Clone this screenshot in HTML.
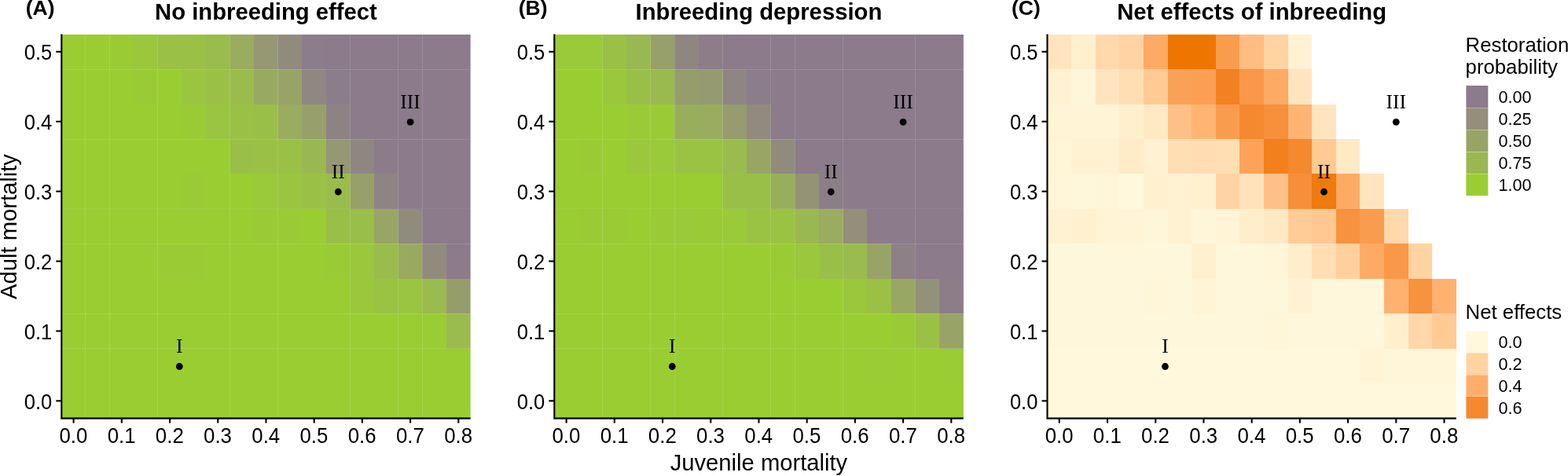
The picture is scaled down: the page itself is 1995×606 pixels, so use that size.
<!DOCTYPE html>
<html><head><meta charset="utf-8"><style>
html,body{margin:0;padding:0;background:#fff;width:1995px;height:606px;overflow:hidden}
svg{display:block}
text{font-family:"Liberation Sans",Arial,sans-serif;fill:#000}
.tk{font-size:27.2px}
.pl{font-size:25px;font-weight:bold}
.ti{font-size:29.26px;font-weight:bold}
.at{font-size:29.2px}
.lt{font-size:25.3px}
.ll{font-size:21.6px}
.rn{font-family:"Liberation Serif","Times New Roman",serif;font-size:25.5px}
</style></head><body>
<svg width="1995" height="606" viewBox="0 0 1995 606">
<rect width="1995" height="606" fill="#fff"/>
<g>
<rect x="78" y="44" width="31.00" height="44" fill="#9acd32"/>
<rect x="109" y="44" width="31.00" height="44" fill="#9acd32"/>
<rect x="140" y="44" width="30.00" height="44" fill="#9acb35"/>
<rect x="170" y="44" width="31.00" height="44" fill="#9ac73c"/>
<rect x="201" y="44" width="30.00" height="44" fill="#9ac146"/>
<rect x="231" y="44" width="31.00" height="44" fill="#9ac146"/>
<rect x="262" y="44" width="31.00" height="44" fill="#9abc4c"/>
<rect x="293" y="44" width="30.00" height="44" fill="#99ac5f"/>
<rect x="323" y="44" width="31.00" height="44" fill="#959873"/>
<rect x="354" y="44" width="30.00" height="44" fill="#918b7d"/>
<rect x="384" y="44" width="31.00" height="44" fill="#8c7d8a"/>
<rect x="415" y="44" width="31.00" height="44" fill="#8b7b8b"/>
<rect x="446" y="44" width="30.00" height="44" fill="#8b7b8b"/>
<rect x="476" y="44" width="31.00" height="44" fill="#8b7b8b"/>
<rect x="507" y="44" width="30.00" height="44" fill="#8b7b8b"/>
<rect x="537" y="44" width="31.00" height="44" fill="#8b7b8b"/>
<rect x="568" y="44" width="30.60" height="44" fill="#8b7b8b"/>
<rect x="78" y="88" width="31.00" height="45" fill="#9acd32"/>
<rect x="109" y="88" width="31.00" height="45" fill="#9acd32"/>
<rect x="140" y="88" width="30.00" height="45" fill="#9acd32"/>
<rect x="170" y="88" width="31.00" height="45" fill="#9acb37"/>
<rect x="201" y="88" width="30.00" height="45" fill="#9acd32"/>
<rect x="231" y="88" width="31.00" height="45" fill="#9ac540"/>
<rect x="262" y="88" width="31.00" height="45" fill="#9ac146"/>
<rect x="293" y="88" width="30.00" height="45" fill="#9abc4c"/>
<rect x="323" y="88" width="31.00" height="45" fill="#98a962"/>
<rect x="354" y="88" width="30.00" height="45" fill="#98a467"/>
<rect x="384" y="88" width="31.00" height="45" fill="#908781"/>
<rect x="415" y="88" width="31.00" height="45" fill="#8c7d8a"/>
<rect x="446" y="88" width="30.00" height="45" fill="#8b7b8b"/>
<rect x="476" y="88" width="31.00" height="45" fill="#8b7b8b"/>
<rect x="507" y="88" width="30.00" height="45" fill="#8b7b8b"/>
<rect x="537" y="88" width="31.00" height="45" fill="#8b7b8b"/>
<rect x="568" y="88" width="30.60" height="45" fill="#8b7b8b"/>
<rect x="78" y="133" width="31.00" height="44" fill="#9acd32"/>
<rect x="109" y="133" width="31.00" height="44" fill="#9acd32"/>
<rect x="140" y="133" width="30.00" height="44" fill="#9acd32"/>
<rect x="170" y="133" width="31.00" height="44" fill="#9acd32"/>
<rect x="201" y="133" width="30.00" height="44" fill="#9acd32"/>
<rect x="231" y="133" width="31.00" height="44" fill="#9acb35"/>
<rect x="262" y="133" width="31.00" height="44" fill="#9ac540"/>
<rect x="293" y="133" width="30.00" height="44" fill="#9ac146"/>
<rect x="323" y="133" width="31.00" height="44" fill="#9abf48"/>
<rect x="354" y="133" width="30.00" height="44" fill="#99ac5f"/>
<rect x="384" y="133" width="31.00" height="44" fill="#97a06b"/>
<rect x="415" y="133" width="31.00" height="44" fill="#8e8384"/>
<rect x="446" y="133" width="30.00" height="44" fill="#8b7b8b"/>
<rect x="476" y="133" width="31.00" height="44" fill="#8b7b8b"/>
<rect x="507" y="133" width="30.00" height="44" fill="#8b7b8b"/>
<rect x="537" y="133" width="31.00" height="44" fill="#8b7b8b"/>
<rect x="568" y="133" width="30.60" height="44" fill="#8b7b8b"/>
<rect x="78" y="177" width="31.00" height="44" fill="#9acd32"/>
<rect x="109" y="177" width="31.00" height="44" fill="#9acd32"/>
<rect x="140" y="177" width="30.00" height="44" fill="#9acd32"/>
<rect x="170" y="177" width="31.00" height="44" fill="#9acd32"/>
<rect x="201" y="177" width="30.00" height="44" fill="#9acd32"/>
<rect x="231" y="177" width="31.00" height="44" fill="#9acd32"/>
<rect x="262" y="177" width="31.00" height="44" fill="#9acd32"/>
<rect x="293" y="177" width="30.00" height="44" fill="#9abf48"/>
<rect x="323" y="177" width="31.00" height="44" fill="#9ac146"/>
<rect x="354" y="177" width="30.00" height="44" fill="#9ac146"/>
<rect x="384" y="177" width="31.00" height="44" fill="#9ab851"/>
<rect x="415" y="177" width="31.00" height="44" fill="#959873"/>
<rect x="446" y="177" width="30.00" height="44" fill="#8f8682"/>
<rect x="476" y="177" width="31.00" height="44" fill="#8c7c8a"/>
<rect x="507" y="177" width="30.00" height="44" fill="#8b7b8b"/>
<rect x="537" y="177" width="31.00" height="44" fill="#8b7b8b"/>
<rect x="568" y="177" width="30.60" height="44" fill="#8b7b8b"/>
<rect x="78" y="221" width="31.00" height="45" fill="#9acd32"/>
<rect x="109" y="221" width="31.00" height="45" fill="#9acd32"/>
<rect x="140" y="221" width="30.00" height="45" fill="#9acd32"/>
<rect x="170" y="221" width="31.00" height="45" fill="#9acd32"/>
<rect x="201" y="221" width="30.00" height="45" fill="#9acd32"/>
<rect x="231" y="221" width="31.00" height="45" fill="#9acb37"/>
<rect x="262" y="221" width="31.00" height="45" fill="#9acd32"/>
<rect x="293" y="221" width="30.00" height="45" fill="#9acd32"/>
<rect x="323" y="221" width="31.00" height="45" fill="#9ac939"/>
<rect x="354" y="221" width="30.00" height="45" fill="#9ac540"/>
<rect x="384" y="221" width="31.00" height="45" fill="#9ac146"/>
<rect x="415" y="221" width="31.00" height="45" fill="#9abc4c"/>
<rect x="446" y="221" width="30.00" height="45" fill="#97a06b"/>
<rect x="476" y="221" width="31.00" height="45" fill="#8f8484"/>
<rect x="507" y="221" width="30.00" height="45" fill="#8b7b8b"/>
<rect x="537" y="221" width="31.00" height="45" fill="#8b7b8b"/>
<rect x="568" y="221" width="30.60" height="45" fill="#8b7b8b"/>
<rect x="78" y="266" width="31.00" height="44" fill="#9acd32"/>
<rect x="109" y="266" width="31.00" height="44" fill="#9acd32"/>
<rect x="140" y="266" width="30.00" height="44" fill="#9acd32"/>
<rect x="170" y="266" width="31.00" height="44" fill="#9acd32"/>
<rect x="201" y="266" width="30.00" height="44" fill="#9acd32"/>
<rect x="231" y="266" width="31.00" height="44" fill="#9acd32"/>
<rect x="262" y="266" width="31.00" height="44" fill="#9acd32"/>
<rect x="293" y="266" width="30.00" height="44" fill="#9acd32"/>
<rect x="323" y="266" width="31.00" height="44" fill="#9acb37"/>
<rect x="354" y="266" width="30.00" height="44" fill="#9acb37"/>
<rect x="384" y="266" width="31.00" height="44" fill="#9acd32"/>
<rect x="415" y="266" width="31.00" height="44" fill="#9abf48"/>
<rect x="446" y="266" width="30.00" height="44" fill="#9abf48"/>
<rect x="476" y="266" width="31.00" height="44" fill="#98a565"/>
<rect x="507" y="266" width="30.00" height="44" fill="#918b7d"/>
<rect x="537" y="266" width="31.00" height="44" fill="#8b7b8b"/>
<rect x="568" y="266" width="30.60" height="44" fill="#8b7b8b"/>
<rect x="78" y="310" width="31.00" height="45" fill="#9acd32"/>
<rect x="109" y="310" width="31.00" height="45" fill="#9acd32"/>
<rect x="140" y="310" width="30.00" height="45" fill="#9acd32"/>
<rect x="170" y="310" width="31.00" height="45" fill="#9acd32"/>
<rect x="201" y="310" width="30.00" height="45" fill="#9acb35"/>
<rect x="231" y="310" width="31.00" height="45" fill="#9acb35"/>
<rect x="262" y="310" width="31.00" height="45" fill="#9acd32"/>
<rect x="293" y="310" width="30.00" height="45" fill="#9acd32"/>
<rect x="323" y="310" width="31.00" height="45" fill="#9acd32"/>
<rect x="354" y="310" width="30.00" height="45" fill="#9acd32"/>
<rect x="384" y="310" width="31.00" height="45" fill="#9acd32"/>
<rect x="415" y="310" width="31.00" height="45" fill="#9acb35"/>
<rect x="446" y="310" width="30.00" height="45" fill="#9ac73c"/>
<rect x="476" y="310" width="31.00" height="45" fill="#9abc4c"/>
<rect x="507" y="310" width="30.00" height="45" fill="#99aa60"/>
<rect x="537" y="310" width="31.00" height="45" fill="#918b7d"/>
<rect x="568" y="310" width="30.60" height="45" fill="#8b7b8b"/>
<rect x="78" y="355" width="31.00" height="44" fill="#9acd32"/>
<rect x="109" y="355" width="31.00" height="44" fill="#9acd32"/>
<rect x="140" y="355" width="30.00" height="44" fill="#9acd32"/>
<rect x="170" y="355" width="31.00" height="44" fill="#9acd32"/>
<rect x="201" y="355" width="30.00" height="44" fill="#9acd32"/>
<rect x="231" y="355" width="31.00" height="44" fill="#9acd32"/>
<rect x="262" y="355" width="31.00" height="44" fill="#9acd32"/>
<rect x="293" y="355" width="30.00" height="44" fill="#9acd32"/>
<rect x="323" y="355" width="31.00" height="44" fill="#9acd32"/>
<rect x="354" y="355" width="30.00" height="44" fill="#9acd32"/>
<rect x="384" y="355" width="31.00" height="44" fill="#9acd32"/>
<rect x="415" y="355" width="31.00" height="44" fill="#9acd32"/>
<rect x="446" y="355" width="30.00" height="44" fill="#9ac73c"/>
<rect x="476" y="355" width="31.00" height="44" fill="#9ac343"/>
<rect x="507" y="355" width="30.00" height="44" fill="#9ac540"/>
<rect x="537" y="355" width="31.00" height="44" fill="#9abb4e"/>
<rect x="568" y="355" width="30.60" height="44" fill="#969d6d"/>
<rect x="78" y="399" width="31.00" height="45" fill="#9acd32"/>
<rect x="109" y="399" width="31.00" height="45" fill="#9acd32"/>
<rect x="140" y="399" width="30.00" height="45" fill="#9acd32"/>
<rect x="170" y="399" width="31.00" height="45" fill="#9acd32"/>
<rect x="201" y="399" width="30.00" height="45" fill="#9acd32"/>
<rect x="231" y="399" width="31.00" height="45" fill="#9acd32"/>
<rect x="262" y="399" width="31.00" height="45" fill="#9acd32"/>
<rect x="293" y="399" width="30.00" height="45" fill="#9acd32"/>
<rect x="323" y="399" width="31.00" height="45" fill="#9acd32"/>
<rect x="354" y="399" width="30.00" height="45" fill="#9acd32"/>
<rect x="384" y="399" width="31.00" height="45" fill="#9acd32"/>
<rect x="415" y="399" width="31.00" height="45" fill="#9acd32"/>
<rect x="446" y="399" width="30.00" height="45" fill="#9acd32"/>
<rect x="476" y="399" width="31.00" height="45" fill="#9acd32"/>
<rect x="507" y="399" width="30.00" height="45" fill="#9acd32"/>
<rect x="537" y="399" width="31.00" height="45" fill="#9acc34"/>
<rect x="568" y="399" width="30.60" height="45" fill="#9abb4e"/>
<rect x="78" y="444" width="31.00" height="44" fill="#9acd32"/>
<rect x="109" y="444" width="31.00" height="44" fill="#9acd32"/>
<rect x="140" y="444" width="30.00" height="44" fill="#9acd32"/>
<rect x="170" y="444" width="31.00" height="44" fill="#9acd32"/>
<rect x="201" y="444" width="30.00" height="44" fill="#9acd32"/>
<rect x="231" y="444" width="31.00" height="44" fill="#9acd32"/>
<rect x="262" y="444" width="31.00" height="44" fill="#9acd32"/>
<rect x="293" y="444" width="30.00" height="44" fill="#9acd32"/>
<rect x="323" y="444" width="31.00" height="44" fill="#9acd32"/>
<rect x="354" y="444" width="30.00" height="44" fill="#9acd32"/>
<rect x="384" y="444" width="31.00" height="44" fill="#9acd32"/>
<rect x="415" y="444" width="31.00" height="44" fill="#9acd32"/>
<rect x="446" y="444" width="30.00" height="44" fill="#9acd32"/>
<rect x="476" y="444" width="31.00" height="44" fill="#9acd32"/>
<rect x="507" y="444" width="30.00" height="44" fill="#9acd32"/>
<rect x="537" y="444" width="31.00" height="44" fill="#9acd32"/>
<rect x="568" y="444" width="30.60" height="44" fill="#9acd32"/>
<rect x="78" y="488" width="31.00" height="45" fill="#9acd32"/>
<rect x="109" y="488" width="31.00" height="45" fill="#9acd32"/>
<rect x="140" y="488" width="30.00" height="45" fill="#9acd32"/>
<rect x="170" y="488" width="31.00" height="45" fill="#9acd32"/>
<rect x="201" y="488" width="30.00" height="45" fill="#9acd32"/>
<rect x="231" y="488" width="31.00" height="45" fill="#9acd32"/>
<rect x="262" y="488" width="31.00" height="45" fill="#9acd32"/>
<rect x="293" y="488" width="30.00" height="45" fill="#9acd32"/>
<rect x="323" y="488" width="31.00" height="45" fill="#9acd32"/>
<rect x="354" y="488" width="30.00" height="45" fill="#9acd32"/>
<rect x="384" y="488" width="31.00" height="45" fill="#9acd32"/>
<rect x="415" y="488" width="31.00" height="45" fill="#9acd32"/>
<rect x="446" y="488" width="30.00" height="45" fill="#9acd32"/>
<rect x="476" y="488" width="31.00" height="45" fill="#9acd32"/>
<rect x="507" y="488" width="30.00" height="45" fill="#9acd32"/>
<rect x="537" y="488" width="31.00" height="45" fill="#9acd32"/>
<rect x="568" y="488" width="30.60" height="45" fill="#9acd32"/>
</g>
<g>
<rect x="705" y="44" width="31.00" height="44" fill="#9ac939"/>
<rect x="736" y="44" width="31.00" height="44" fill="#9ac939"/>
<rect x="767" y="44" width="30.00" height="44" fill="#9ac146"/>
<rect x="797" y="44" width="31.00" height="44" fill="#9ab851"/>
<rect x="828" y="44" width="30.00" height="44" fill="#97a06b"/>
<rect x="858" y="44" width="31.00" height="44" fill="#8f8682"/>
<rect x="889" y="44" width="31.00" height="44" fill="#8c7d89"/>
<rect x="920" y="44" width="30.00" height="44" fill="#8b7b8b"/>
<rect x="950" y="44" width="31.00" height="44" fill="#8b7b8b"/>
<rect x="981" y="44" width="30.00" height="44" fill="#8b7b8b"/>
<rect x="1011" y="44" width="31.00" height="44" fill="#8b7b8b"/>
<rect x="1042" y="44" width="31.00" height="44" fill="#8b7b8b"/>
<rect x="1073" y="44" width="30.00" height="44" fill="#8b7b8b"/>
<rect x="1103" y="44" width="31.00" height="44" fill="#8b7b8b"/>
<rect x="1134" y="44" width="30.00" height="44" fill="#8b7b8b"/>
<rect x="1164" y="44" width="31.00" height="44" fill="#8b7b8b"/>
<rect x="1195" y="44" width="30.90" height="44" fill="#8b7b8b"/>
<rect x="705" y="88" width="31.00" height="45" fill="#9acd32"/>
<rect x="736" y="88" width="31.00" height="45" fill="#9acd32"/>
<rect x="767" y="88" width="30.00" height="45" fill="#9ac73c"/>
<rect x="797" y="88" width="31.00" height="45" fill="#9abf48"/>
<rect x="828" y="88" width="30.00" height="45" fill="#9aba4f"/>
<rect x="858" y="88" width="31.00" height="45" fill="#969d6d"/>
<rect x="889" y="88" width="31.00" height="45" fill="#959a70"/>
<rect x="920" y="88" width="30.00" height="45" fill="#8f8583"/>
<rect x="950" y="88" width="31.00" height="45" fill="#8c7d8a"/>
<rect x="981" y="88" width="30.00" height="45" fill="#8b7b8b"/>
<rect x="1011" y="88" width="31.00" height="45" fill="#8b7b8b"/>
<rect x="1042" y="88" width="31.00" height="45" fill="#8b7b8b"/>
<rect x="1073" y="88" width="30.00" height="45" fill="#8b7b8b"/>
<rect x="1103" y="88" width="31.00" height="45" fill="#8b7b8b"/>
<rect x="1134" y="88" width="30.00" height="45" fill="#8b7b8b"/>
<rect x="1164" y="88" width="31.00" height="45" fill="#8b7b8b"/>
<rect x="1195" y="88" width="30.90" height="45" fill="#8b7b8b"/>
<rect x="705" y="133" width="31.00" height="44" fill="#9acd32"/>
<rect x="736" y="133" width="31.00" height="44" fill="#9acd32"/>
<rect x="767" y="133" width="30.00" height="44" fill="#9acd32"/>
<rect x="797" y="133" width="31.00" height="44" fill="#9acb37"/>
<rect x="828" y="133" width="30.00" height="44" fill="#9acb37"/>
<rect x="858" y="133" width="31.00" height="44" fill="#99ae5d"/>
<rect x="889" y="133" width="31.00" height="44" fill="#99ac5f"/>
<rect x="920" y="133" width="30.00" height="44" fill="#969c6f"/>
<rect x="950" y="133" width="31.00" height="44" fill="#918a7f"/>
<rect x="981" y="133" width="30.00" height="44" fill="#8b7b8b"/>
<rect x="1011" y="133" width="31.00" height="44" fill="#8b7b8b"/>
<rect x="1042" y="133" width="31.00" height="44" fill="#8b7b8b"/>
<rect x="1073" y="133" width="30.00" height="44" fill="#8b7b8b"/>
<rect x="1103" y="133" width="31.00" height="44" fill="#8b7b8b"/>
<rect x="1134" y="133" width="30.00" height="44" fill="#8b7b8b"/>
<rect x="1164" y="133" width="31.00" height="44" fill="#8b7b8b"/>
<rect x="1195" y="133" width="30.90" height="44" fill="#8b7b8b"/>
<rect x="705" y="177" width="31.00" height="44" fill="#9acd32"/>
<rect x="736" y="177" width="31.00" height="44" fill="#9acb35"/>
<rect x="767" y="177" width="30.00" height="44" fill="#9acd32"/>
<rect x="797" y="177" width="31.00" height="44" fill="#9ac73c"/>
<rect x="828" y="177" width="30.00" height="44" fill="#9ac939"/>
<rect x="858" y="177" width="31.00" height="44" fill="#9ac343"/>
<rect x="889" y="177" width="31.00" height="44" fill="#9ac343"/>
<rect x="920" y="177" width="30.00" height="44" fill="#9abb4e"/>
<rect x="950" y="177" width="31.00" height="44" fill="#98a565"/>
<rect x="981" y="177" width="30.00" height="44" fill="#918b7d"/>
<rect x="1011" y="177" width="31.00" height="44" fill="#8b7b8b"/>
<rect x="1042" y="177" width="31.00" height="44" fill="#8b7b8b"/>
<rect x="1073" y="177" width="30.00" height="44" fill="#8b7b8b"/>
<rect x="1103" y="177" width="31.00" height="44" fill="#8b7b8b"/>
<rect x="1134" y="177" width="30.00" height="44" fill="#8b7b8b"/>
<rect x="1164" y="177" width="31.00" height="44" fill="#8b7b8b"/>
<rect x="1195" y="177" width="30.90" height="44" fill="#8b7b8b"/>
<rect x="705" y="221" width="31.00" height="45" fill="#9acd32"/>
<rect x="736" y="221" width="31.00" height="45" fill="#9acd32"/>
<rect x="767" y="221" width="30.00" height="45" fill="#9acd32"/>
<rect x="797" y="221" width="31.00" height="45" fill="#9acd32"/>
<rect x="828" y="221" width="30.00" height="45" fill="#9acd32"/>
<rect x="858" y="221" width="31.00" height="45" fill="#9acd32"/>
<rect x="889" y="221" width="31.00" height="45" fill="#9acd32"/>
<rect x="920" y="221" width="30.00" height="45" fill="#9abf48"/>
<rect x="950" y="221" width="31.00" height="45" fill="#9abf48"/>
<rect x="981" y="221" width="30.00" height="45" fill="#99ae5c"/>
<rect x="1011" y="221" width="31.00" height="45" fill="#949376"/>
<rect x="1042" y="221" width="31.00" height="45" fill="#8c7e88"/>
<rect x="1073" y="221" width="30.00" height="45" fill="#8b7b8b"/>
<rect x="1103" y="221" width="31.00" height="45" fill="#8b7b8b"/>
<rect x="1134" y="221" width="30.00" height="45" fill="#8b7b8b"/>
<rect x="1164" y="221" width="31.00" height="45" fill="#8b7b8b"/>
<rect x="1195" y="221" width="30.90" height="45" fill="#8b7b8b"/>
<rect x="705" y="266" width="31.00" height="44" fill="#9acd32"/>
<rect x="736" y="266" width="31.00" height="44" fill="#9acb35"/>
<rect x="767" y="266" width="30.00" height="44" fill="#9acb35"/>
<rect x="797" y="266" width="31.00" height="44" fill="#9acd32"/>
<rect x="828" y="266" width="30.00" height="44" fill="#9acb35"/>
<rect x="858" y="266" width="31.00" height="44" fill="#9aca38"/>
<rect x="889" y="266" width="31.00" height="44" fill="#9acb35"/>
<rect x="920" y="266" width="30.00" height="44" fill="#9ac939"/>
<rect x="950" y="266" width="31.00" height="44" fill="#9ac343"/>
<rect x="981" y="266" width="30.00" height="44" fill="#9ac343"/>
<rect x="1011" y="266" width="31.00" height="44" fill="#9ab851"/>
<rect x="1042" y="266" width="31.00" height="44" fill="#99ac5f"/>
<rect x="1073" y="266" width="30.00" height="44" fill="#938f7a"/>
<rect x="1103" y="266" width="31.00" height="44" fill="#8b7b8b"/>
<rect x="1134" y="266" width="30.00" height="44" fill="#8b7b8b"/>
<rect x="1164" y="266" width="31.00" height="44" fill="#8b7b8b"/>
<rect x="1195" y="266" width="30.90" height="44" fill="#8b7b8b"/>
<rect x="705" y="310" width="31.00" height="45" fill="#9acd32"/>
<rect x="736" y="310" width="31.00" height="45" fill="#9acd32"/>
<rect x="767" y="310" width="30.00" height="45" fill="#9acd32"/>
<rect x="797" y="310" width="31.00" height="45" fill="#9acd32"/>
<rect x="828" y="310" width="30.00" height="45" fill="#9acd32"/>
<rect x="858" y="310" width="31.00" height="45" fill="#9acd32"/>
<rect x="889" y="310" width="31.00" height="45" fill="#9acd32"/>
<rect x="920" y="310" width="30.00" height="45" fill="#9acd32"/>
<rect x="950" y="310" width="31.00" height="45" fill="#9acd32"/>
<rect x="981" y="310" width="30.00" height="45" fill="#9acb35"/>
<rect x="1011" y="310" width="31.00" height="45" fill="#9ac73c"/>
<rect x="1042" y="310" width="31.00" height="45" fill="#9abf48"/>
<rect x="1073" y="310" width="30.00" height="45" fill="#9abb4e"/>
<rect x="1103" y="310" width="31.00" height="45" fill="#98a467"/>
<rect x="1134" y="310" width="30.00" height="45" fill="#8d8087"/>
<rect x="1164" y="310" width="31.00" height="45" fill="#8b7b8b"/>
<rect x="1195" y="310" width="30.90" height="45" fill="#8b7b8b"/>
<rect x="705" y="355" width="31.00" height="44" fill="#9acd32"/>
<rect x="736" y="355" width="31.00" height="44" fill="#9acd32"/>
<rect x="767" y="355" width="30.00" height="44" fill="#9acd32"/>
<rect x="797" y="355" width="31.00" height="44" fill="#9acd32"/>
<rect x="828" y="355" width="30.00" height="44" fill="#9acd32"/>
<rect x="858" y="355" width="31.00" height="44" fill="#9acd32"/>
<rect x="889" y="355" width="31.00" height="44" fill="#9acd32"/>
<rect x="920" y="355" width="30.00" height="44" fill="#9acd32"/>
<rect x="950" y="355" width="31.00" height="44" fill="#9acd32"/>
<rect x="981" y="355" width="30.00" height="44" fill="#9acd32"/>
<rect x="1011" y="355" width="31.00" height="44" fill="#9acd32"/>
<rect x="1042" y="355" width="31.00" height="44" fill="#9acd32"/>
<rect x="1073" y="355" width="30.00" height="44" fill="#9ac73c"/>
<rect x="1103" y="355" width="31.00" height="44" fill="#9ac146"/>
<rect x="1134" y="355" width="30.00" height="44" fill="#98a863"/>
<rect x="1164" y="355" width="31.00" height="44" fill="#939278"/>
<rect x="1195" y="355" width="30.90" height="44" fill="#8c7d89"/>
<rect x="705" y="399" width="31.00" height="45" fill="#9acd32"/>
<rect x="736" y="399" width="31.00" height="45" fill="#9acd32"/>
<rect x="767" y="399" width="30.00" height="45" fill="#9acd32"/>
<rect x="797" y="399" width="31.00" height="45" fill="#9acd32"/>
<rect x="828" y="399" width="30.00" height="45" fill="#9acd32"/>
<rect x="858" y="399" width="31.00" height="45" fill="#9acd32"/>
<rect x="889" y="399" width="31.00" height="45" fill="#9acd32"/>
<rect x="920" y="399" width="30.00" height="45" fill="#9acd32"/>
<rect x="950" y="399" width="31.00" height="45" fill="#9acd32"/>
<rect x="981" y="399" width="30.00" height="45" fill="#9acd32"/>
<rect x="1011" y="399" width="31.00" height="45" fill="#9acd32"/>
<rect x="1042" y="399" width="31.00" height="45" fill="#9acd32"/>
<rect x="1073" y="399" width="30.00" height="45" fill="#9acd32"/>
<rect x="1103" y="399" width="31.00" height="45" fill="#9acd32"/>
<rect x="1134" y="399" width="30.00" height="45" fill="#9acb37"/>
<rect x="1164" y="399" width="31.00" height="45" fill="#9ac146"/>
<rect x="1195" y="399" width="30.90" height="45" fill="#98a467"/>
<rect x="705" y="444" width="31.00" height="44" fill="#9acd32"/>
<rect x="736" y="444" width="31.00" height="44" fill="#9acd32"/>
<rect x="767" y="444" width="30.00" height="44" fill="#9acd32"/>
<rect x="797" y="444" width="31.00" height="44" fill="#9acd32"/>
<rect x="828" y="444" width="30.00" height="44" fill="#9acd32"/>
<rect x="858" y="444" width="31.00" height="44" fill="#9acd32"/>
<rect x="889" y="444" width="31.00" height="44" fill="#9acd32"/>
<rect x="920" y="444" width="30.00" height="44" fill="#9acd32"/>
<rect x="950" y="444" width="31.00" height="44" fill="#9acd32"/>
<rect x="981" y="444" width="30.00" height="44" fill="#9acd32"/>
<rect x="1011" y="444" width="31.00" height="44" fill="#9acd32"/>
<rect x="1042" y="444" width="31.00" height="44" fill="#9acd32"/>
<rect x="1073" y="444" width="30.00" height="44" fill="#9acd32"/>
<rect x="1103" y="444" width="31.00" height="44" fill="#9acc34"/>
<rect x="1134" y="444" width="30.00" height="44" fill="#9acd32"/>
<rect x="1164" y="444" width="31.00" height="44" fill="#9acd32"/>
<rect x="1195" y="444" width="30.90" height="44" fill="#9acc34"/>
<rect x="705" y="488" width="31.00" height="45" fill="#9acd32"/>
<rect x="736" y="488" width="31.00" height="45" fill="#9acd32"/>
<rect x="767" y="488" width="30.00" height="45" fill="#9acd32"/>
<rect x="797" y="488" width="31.00" height="45" fill="#9acd32"/>
<rect x="828" y="488" width="30.00" height="45" fill="#9acd32"/>
<rect x="858" y="488" width="31.00" height="45" fill="#9acd32"/>
<rect x="889" y="488" width="31.00" height="45" fill="#9acd32"/>
<rect x="920" y="488" width="30.00" height="45" fill="#9acd32"/>
<rect x="950" y="488" width="31.00" height="45" fill="#9acd32"/>
<rect x="981" y="488" width="30.00" height="45" fill="#9acd32"/>
<rect x="1011" y="488" width="31.00" height="45" fill="#9acd32"/>
<rect x="1042" y="488" width="31.00" height="45" fill="#9acd32"/>
<rect x="1073" y="488" width="30.00" height="45" fill="#9acd32"/>
<rect x="1103" y="488" width="31.00" height="45" fill="#9acd32"/>
<rect x="1134" y="488" width="30.00" height="45" fill="#9acd32"/>
<rect x="1164" y="488" width="31.00" height="45" fill="#9acd32"/>
<rect x="1195" y="488" width="30.90" height="45" fill="#9acd32"/>
</g>
<g>
<rect x="1332" y="44" width="31.00" height="44" fill="#ffe5bf"/>
<rect x="1363" y="44" width="31.00" height="44" fill="#ffefcd"/>
<rect x="1394" y="44" width="30.00" height="44" fill="#ffd8ab"/>
<rect x="1424" y="44" width="31.00" height="44" fill="#ffd3a2"/>
<rect x="1455" y="44" width="31.00" height="44" fill="#fdaa65"/>
<rect x="1486" y="44" width="30.00" height="44" fill="#ee7600"/>
<rect x="1516" y="44" width="31.00" height="44" fill="#ee7600"/>
<rect x="1547" y="44" width="30.00" height="44" fill="#fa9c4e"/>
<rect x="1577" y="44" width="31.00" height="44" fill="#ffbd81"/>
<rect x="1608" y="44" width="31.00" height="44" fill="#ffd3a2"/>
<rect x="1639" y="44" width="30.00" height="44" fill="#fff2d3"/>
<rect x="1332" y="88" width="31.00" height="45" fill="#fff2d3"/>
<rect x="1363" y="88" width="31.00" height="45" fill="#fff5d8"/>
<rect x="1394" y="88" width="30.00" height="45" fill="#ffe5bf"/>
<rect x="1424" y="88" width="31.00" height="45" fill="#ffdeb4"/>
<rect x="1455" y="88" width="31.00" height="45" fill="#ffca94"/>
<rect x="1486" y="88" width="30.00" height="45" fill="#fba157"/>
<rect x="1516" y="88" width="31.00" height="45" fill="#fb9f54"/>
<rect x="1547" y="88" width="30.00" height="45" fill="#f28121"/>
<rect x="1577" y="88" width="31.00" height="45" fill="#f99848"/>
<rect x="1608" y="88" width="31.00" height="45" fill="#fdaa65"/>
<rect x="1639" y="88" width="30.00" height="45" fill="#ffe5bf"/>
<rect x="1332" y="133" width="31.00" height="44" fill="#fff4d6"/>
<rect x="1363" y="133" width="31.00" height="44" fill="#fff4d6"/>
<rect x="1394" y="133" width="30.00" height="44" fill="#fff4d6"/>
<rect x="1424" y="133" width="31.00" height="44" fill="#ffefcd"/>
<rect x="1455" y="133" width="31.00" height="44" fill="#ffe9c5"/>
<rect x="1486" y="133" width="30.00" height="44" fill="#ffc086"/>
<rect x="1516" y="133" width="31.00" height="44" fill="#ffb473"/>
<rect x="1547" y="133" width="30.00" height="44" fill="#fa9c4e"/>
<rect x="1577" y="133" width="31.00" height="44" fill="#f58930"/>
<rect x="1608" y="133" width="31.00" height="44" fill="#f7903c"/>
<rect x="1639" y="133" width="30.00" height="44" fill="#ffb473"/>
<rect x="1669" y="133" width="31.00" height="44" fill="#ffe5bf"/>
<rect x="1332" y="177" width="31.00" height="44" fill="#fff6d8"/>
<rect x="1363" y="177" width="31.00" height="44" fill="#fff2d3"/>
<rect x="1394" y="177" width="30.00" height="44" fill="#fff2d3"/>
<rect x="1424" y="177" width="31.00" height="44" fill="#ffebc8"/>
<rect x="1455" y="177" width="31.00" height="44" fill="#fff1d2"/>
<rect x="1486" y="177" width="30.00" height="44" fill="#ffdeb4"/>
<rect x="1516" y="177" width="31.00" height="44" fill="#ffdcb1"/>
<rect x="1547" y="177" width="30.00" height="44" fill="#ffdeb4"/>
<rect x="1577" y="177" width="31.00" height="44" fill="#fca359"/>
<rect x="1608" y="177" width="31.00" height="44" fill="#f1801d"/>
<rect x="1639" y="177" width="30.00" height="44" fill="#f58930"/>
<rect x="1669" y="177" width="31.00" height="44" fill="#ffca94"/>
<rect x="1700" y="177" width="30.00" height="44" fill="#ffeac6"/>
<rect x="1332" y="221" width="31.00" height="45" fill="#fff6d9"/>
<rect x="1363" y="221" width="31.00" height="45" fill="#fff7da"/>
<rect x="1394" y="221" width="30.00" height="45" fill="#fff6d9"/>
<rect x="1424" y="221" width="31.00" height="45" fill="#fff8dc"/>
<rect x="1455" y="221" width="31.00" height="45" fill="#fff1d0"/>
<rect x="1486" y="221" width="30.00" height="45" fill="#fff2d3"/>
<rect x="1516" y="221" width="31.00" height="45" fill="#fff1d0"/>
<rect x="1547" y="221" width="30.00" height="45" fill="#ffd3a2"/>
<rect x="1577" y="221" width="31.00" height="45" fill="#ffe2b9"/>
<rect x="1608" y="221" width="31.00" height="45" fill="#ffc086"/>
<rect x="1639" y="221" width="30.00" height="45" fill="#f68f39"/>
<rect x="1669" y="221" width="31.00" height="45" fill="#ef7a0e"/>
<rect x="1700" y="221" width="30.00" height="45" fill="#fdaa65"/>
<rect x="1730" y="221" width="31.00" height="45" fill="#ffe5bf"/>
<rect x="1332" y="266" width="31.00" height="44" fill="#fff2d3"/>
<rect x="1363" y="266" width="31.00" height="44" fill="#fff1d0"/>
<rect x="1394" y="266" width="30.00" height="44" fill="#fff4d6"/>
<rect x="1424" y="266" width="31.00" height="44" fill="#fff4d6"/>
<rect x="1455" y="266" width="31.00" height="44" fill="#fff6d9"/>
<rect x="1486" y="266" width="30.00" height="44" fill="#fff2d3"/>
<rect x="1516" y="266" width="31.00" height="44" fill="#fff6d9"/>
<rect x="1547" y="266" width="30.00" height="44" fill="#fff4d6"/>
<rect x="1577" y="266" width="31.00" height="44" fill="#ffedcb"/>
<rect x="1608" y="266" width="31.00" height="44" fill="#ffe9c5"/>
<rect x="1639" y="266" width="30.00" height="44" fill="#ffcc97"/>
<rect x="1669" y="266" width="31.00" height="44" fill="#ffc892"/>
<rect x="1700" y="266" width="30.00" height="44" fill="#f7923f"/>
<rect x="1730" y="266" width="31.00" height="44" fill="#fa9c4e"/>
<rect x="1761" y="266" width="31.00" height="44" fill="#ffd8ab"/>
<rect x="1332" y="310" width="31.00" height="45" fill="#fff7db"/>
<rect x="1363" y="310" width="31.00" height="45" fill="#fff7db"/>
<rect x="1394" y="310" width="30.00" height="45" fill="#fff7db"/>
<rect x="1424" y="310" width="31.00" height="45" fill="#fff7db"/>
<rect x="1455" y="310" width="31.00" height="45" fill="#fff7db"/>
<rect x="1486" y="310" width="30.00" height="45" fill="#fff7db"/>
<rect x="1516" y="310" width="31.00" height="45" fill="#fff1d0"/>
<rect x="1547" y="310" width="30.00" height="45" fill="#fff7db"/>
<rect x="1577" y="310" width="31.00" height="45" fill="#fff7db"/>
<rect x="1608" y="310" width="31.00" height="45" fill="#fff6d9"/>
<rect x="1639" y="310" width="30.00" height="45" fill="#ffedcb"/>
<rect x="1669" y="310" width="31.00" height="45" fill="#ffdeb4"/>
<rect x="1700" y="310" width="30.00" height="45" fill="#ffcf9d"/>
<rect x="1730" y="310" width="31.00" height="45" fill="#fdaa65"/>
<rect x="1761" y="310" width="31.00" height="45" fill="#f99848"/>
<rect x="1792" y="310" width="30.00" height="45" fill="#ffd3a2"/>
<rect x="1332" y="355" width="31.00" height="44" fill="#fff7db"/>
<rect x="1363" y="355" width="31.00" height="44" fill="#fff7db"/>
<rect x="1394" y="355" width="30.00" height="44" fill="#fff7db"/>
<rect x="1424" y="355" width="31.00" height="44" fill="#fff7db"/>
<rect x="1455" y="355" width="31.00" height="44" fill="#fff5d8"/>
<rect x="1486" y="355" width="30.00" height="44" fill="#fff7db"/>
<rect x="1516" y="355" width="31.00" height="44" fill="#fff4d6"/>
<rect x="1547" y="355" width="30.00" height="44" fill="#fff7db"/>
<rect x="1577" y="355" width="31.00" height="44" fill="#fff7db"/>
<rect x="1608" y="355" width="31.00" height="44" fill="#fff7db"/>
<rect x="1639" y="355" width="30.00" height="44" fill="#fff2d3"/>
<rect x="1669" y="355" width="31.00" height="44" fill="#fff7db"/>
<rect x="1700" y="355" width="30.00" height="44" fill="#fff7db"/>
<rect x="1730" y="355" width="31.00" height="44" fill="#fff7db"/>
<rect x="1761" y="355" width="31.00" height="44" fill="#ffb270"/>
<rect x="1792" y="355" width="30.00" height="44" fill="#f7923f"/>
<rect x="1822" y="355" width="31.00" height="44" fill="#ffb270"/>
<rect x="1332" y="399" width="31.00" height="45" fill="#fff7db"/>
<rect x="1363" y="399" width="31.00" height="45" fill="#fff7db"/>
<rect x="1394" y="399" width="30.00" height="45" fill="#fff7db"/>
<rect x="1424" y="399" width="31.00" height="45" fill="#fff7db"/>
<rect x="1455" y="399" width="31.00" height="45" fill="#fff7db"/>
<rect x="1486" y="399" width="30.00" height="45" fill="#fff7db"/>
<rect x="1516" y="399" width="31.00" height="45" fill="#fff7db"/>
<rect x="1547" y="399" width="30.00" height="45" fill="#fff7db"/>
<rect x="1577" y="399" width="31.00" height="45" fill="#fff7db"/>
<rect x="1608" y="399" width="31.00" height="45" fill="#fff6d9"/>
<rect x="1639" y="399" width="30.00" height="45" fill="#fff7db"/>
<rect x="1669" y="399" width="31.00" height="45" fill="#fff7db"/>
<rect x="1700" y="399" width="30.00" height="45" fill="#fff7db"/>
<rect x="1730" y="399" width="31.00" height="45" fill="#fff7db"/>
<rect x="1761" y="399" width="31.00" height="45" fill="#ffefcd"/>
<rect x="1792" y="399" width="30.00" height="45" fill="#ffd7a8"/>
<rect x="1822" y="399" width="31.00" height="45" fill="#ffca94"/>
<rect x="1332" y="444" width="31.00" height="44" fill="#fff8dc"/>
<rect x="1363" y="444" width="31.00" height="44" fill="#fff8dc"/>
<rect x="1394" y="444" width="30.00" height="44" fill="#fff8dc"/>
<rect x="1424" y="444" width="31.00" height="44" fill="#fff8dc"/>
<rect x="1455" y="444" width="31.00" height="44" fill="#fff8dc"/>
<rect x="1486" y="444" width="30.00" height="44" fill="#fff8dc"/>
<rect x="1516" y="444" width="31.00" height="44" fill="#fff8dc"/>
<rect x="1547" y="444" width="30.00" height="44" fill="#fff8dc"/>
<rect x="1577" y="444" width="31.00" height="44" fill="#fff8dc"/>
<rect x="1608" y="444" width="31.00" height="44" fill="#fff8dc"/>
<rect x="1639" y="444" width="30.00" height="44" fill="#fff8dc"/>
<rect x="1669" y="444" width="31.00" height="44" fill="#fff8dc"/>
<rect x="1700" y="444" width="30.00" height="44" fill="#fff8dc"/>
<rect x="1730" y="444" width="31.00" height="44" fill="#fff4d6"/>
<rect x="1761" y="444" width="31.00" height="44" fill="#fff6d9"/>
<rect x="1792" y="444" width="30.00" height="44" fill="#fff5d8"/>
<rect x="1822" y="444" width="31.00" height="44" fill="#fff5d8"/>
<rect x="1332" y="488" width="31.00" height="45" fill="#fff8dc"/>
<rect x="1363" y="488" width="31.00" height="45" fill="#fff8dc"/>
<rect x="1394" y="488" width="30.00" height="45" fill="#fff8dc"/>
<rect x="1424" y="488" width="31.00" height="45" fill="#fff8dc"/>
<rect x="1455" y="488" width="31.00" height="45" fill="#fff8dc"/>
<rect x="1486" y="488" width="30.00" height="45" fill="#fff8dc"/>
<rect x="1516" y="488" width="31.00" height="45" fill="#fff8dc"/>
<rect x="1547" y="488" width="30.00" height="45" fill="#fff8dc"/>
<rect x="1577" y="488" width="31.00" height="45" fill="#fff8dc"/>
<rect x="1608" y="488" width="31.00" height="45" fill="#fff8dc"/>
<rect x="1639" y="488" width="30.00" height="45" fill="#fff8dc"/>
<rect x="1669" y="488" width="31.00" height="45" fill="#fff8dc"/>
<rect x="1700" y="488" width="30.00" height="45" fill="#fff8dc"/>
<rect x="1730" y="488" width="31.00" height="45" fill="#fff8dc"/>
<rect x="1761" y="488" width="31.00" height="45" fill="#fff8dc"/>
<rect x="1792" y="488" width="30.00" height="45" fill="#fff8dc"/>
<rect x="1822" y="488" width="31.00" height="45" fill="#fff8dc"/>
</g>
<g shape-rendering="crispEdges" fill="#fff">
<rect x="108" y="44" width="1" height="488" fill-opacity="0.12"/>
<rect x="139" y="44" width="1" height="488" fill-opacity="0.12"/>
<rect x="200" y="44" width="1" height="488" fill-opacity="0.12"/>
<rect x="292" y="44" width="1" height="488" fill-opacity="0.12"/>
<rect x="353" y="44" width="1" height="488" fill-opacity="0.12"/>
<rect x="445" y="44" width="1" height="488" fill-opacity="0.12"/>
<rect x="506" y="44" width="1" height="488" fill-opacity="0.12"/>
<rect x="537" y="44" width="1" height="488" fill-opacity="0.12"/>
<rect x="79" y="88" width="520" height="1" fill-opacity="0.12"/>
<rect x="79" y="177" width="520" height="1" fill-opacity="0.12"/>
<rect x="79" y="265" width="520" height="1" fill-opacity="0.05"/>
<rect x="79" y="310" width="520" height="1" fill-opacity="0.12"/>
<rect x="79" y="399" width="520" height="1" fill-opacity="0.12"/>
<rect x="79" y="443" width="520" height="1" fill-opacity="0.12"/>
</g>
<g shape-rendering="crispEdges" fill="#fff">
<rect x="766" y="44" width="1" height="488" fill-opacity="0.12"/>
<rect x="827" y="44" width="1" height="488" fill-opacity="0.12"/>
<rect x="858" y="44" width="1" height="488" fill-opacity="0.12"/>
<rect x="919" y="44" width="1" height="488" fill-opacity="0.12"/>
<rect x="980" y="44" width="1" height="488" fill-opacity="0.12"/>
<rect x="1011" y="44" width="1" height="488" fill-opacity="0.12"/>
<rect x="1072" y="44" width="1" height="488" fill-opacity="0.12"/>
<rect x="1164" y="44" width="1" height="488" fill-opacity="0.12"/>
<rect x="706" y="88" width="520" height="1" fill-opacity="0.12"/>
<rect x="706" y="177" width="520" height="1" fill-opacity="0.12"/>
<rect x="706" y="265" width="520" height="1" fill-opacity="0.05"/>
<rect x="706" y="310" width="520" height="1" fill-opacity="0.12"/>
<rect x="706" y="399" width="520" height="1" fill-opacity="0.12"/>
<rect x="706" y="443" width="520" height="1" fill-opacity="0.12"/>
</g>
<path d="M78.30 43.60V532.60H598.60" fill="none" stroke="#000" stroke-width="2.1"/>
<line x1="71.30" y1="510.37" x2="78.30" y2="510.37" stroke="#000" stroke-width="2.1"/>
<text transform="translate(66.20 520.87) scale(0.94 1)" text-anchor="end" class="tk">0.0</text>
<line x1="71.30" y1="421.46" x2="78.30" y2="421.46" stroke="#000" stroke-width="2.1"/>
<text transform="translate(66.20 431.96) scale(0.94 1)" text-anchor="end" class="tk">0.1</text>
<line x1="71.30" y1="332.55" x2="78.30" y2="332.55" stroke="#000" stroke-width="2.1"/>
<text transform="translate(66.20 343.05) scale(0.94 1)" text-anchor="end" class="tk">0.2</text>
<line x1="71.30" y1="243.65" x2="78.30" y2="243.65" stroke="#000" stroke-width="2.1"/>
<text transform="translate(66.20 254.15) scale(0.94 1)" text-anchor="end" class="tk">0.3</text>
<line x1="71.30" y1="154.74" x2="78.30" y2="154.74" stroke="#000" stroke-width="2.1"/>
<text transform="translate(66.20 165.24) scale(0.94 1)" text-anchor="end" class="tk">0.4</text>
<line x1="71.30" y1="65.83" x2="78.30" y2="65.83" stroke="#000" stroke-width="2.1"/>
<text transform="translate(66.20 76.33) scale(0.94 1)" text-anchor="end" class="tk">0.5</text>
<line x1="93.60" y1="532.60" x2="93.60" y2="538.60" stroke="#000" stroke-width="2.1"/>
<text transform="translate(93.40 563.6) scale(0.95 1)" text-anchor="middle" class="tk">0.0</text>
<line x1="154.81" y1="532.60" x2="154.81" y2="538.60" stroke="#000" stroke-width="2.1"/>
<text transform="translate(154.61 563.6) scale(0.95 1)" text-anchor="middle" class="tk">0.1</text>
<line x1="216.03" y1="532.60" x2="216.03" y2="538.60" stroke="#000" stroke-width="2.1"/>
<text transform="translate(215.83 563.6) scale(0.95 1)" text-anchor="middle" class="tk">0.2</text>
<line x1="277.24" y1="532.60" x2="277.24" y2="538.60" stroke="#000" stroke-width="2.1"/>
<text transform="translate(277.04 563.6) scale(0.95 1)" text-anchor="middle" class="tk">0.3</text>
<line x1="338.45" y1="532.60" x2="338.45" y2="538.60" stroke="#000" stroke-width="2.1"/>
<text transform="translate(338.25 563.6) scale(0.95 1)" text-anchor="middle" class="tk">0.4</text>
<line x1="399.66" y1="532.60" x2="399.66" y2="538.60" stroke="#000" stroke-width="2.1"/>
<text transform="translate(399.46 563.6) scale(0.95 1)" text-anchor="middle" class="tk">0.5</text>
<line x1="460.87" y1="532.60" x2="460.87" y2="538.60" stroke="#000" stroke-width="2.1"/>
<text transform="translate(460.67 563.6) scale(0.95 1)" text-anchor="middle" class="tk">0.6</text>
<line x1="522.09" y1="532.60" x2="522.09" y2="538.60" stroke="#000" stroke-width="2.1"/>
<text transform="translate(521.89 563.6) scale(0.95 1)" text-anchor="middle" class="tk">0.7</text>
<line x1="583.30" y1="532.60" x2="583.30" y2="538.60" stroke="#000" stroke-width="2.1"/>
<text transform="translate(583.10 563.6) scale(0.95 1)" text-anchor="middle" class="tk">0.8</text>
<circle cx="228.27" cy="466.52" r="4.4" fill="#000"/>
<text x="228.27" y="449.42" text-anchor="middle" class="rn">I</text>
<circle cx="430.27" cy="244.25" r="4.4" fill="#000"/>
<text x="430.27" y="227.15" text-anchor="middle" class="rn">II</text>
<circle cx="522.09" cy="155.34" r="4.4" fill="#000"/>
<text x="522.09" y="138.24" text-anchor="middle" class="rn">III</text>
<path d="M705.30 43.60V532.60H1225.60" fill="none" stroke="#000" stroke-width="2.1"/>
<line x1="698.30" y1="510.37" x2="705.30" y2="510.37" stroke="#000" stroke-width="2.1"/>
<text transform="translate(693.20 520.87) scale(0.94 1)" text-anchor="end" class="tk">0.0</text>
<line x1="698.30" y1="421.46" x2="705.30" y2="421.46" stroke="#000" stroke-width="2.1"/>
<text transform="translate(693.20 431.96) scale(0.94 1)" text-anchor="end" class="tk">0.1</text>
<line x1="698.30" y1="332.55" x2="705.30" y2="332.55" stroke="#000" stroke-width="2.1"/>
<text transform="translate(693.20 343.05) scale(0.94 1)" text-anchor="end" class="tk">0.2</text>
<line x1="698.30" y1="243.65" x2="705.30" y2="243.65" stroke="#000" stroke-width="2.1"/>
<text transform="translate(693.20 254.15) scale(0.94 1)" text-anchor="end" class="tk">0.3</text>
<line x1="698.30" y1="154.74" x2="705.30" y2="154.74" stroke="#000" stroke-width="2.1"/>
<text transform="translate(693.20 165.24) scale(0.94 1)" text-anchor="end" class="tk">0.4</text>
<line x1="698.30" y1="65.83" x2="705.30" y2="65.83" stroke="#000" stroke-width="2.1"/>
<text transform="translate(693.20 76.33) scale(0.94 1)" text-anchor="end" class="tk">0.5</text>
<line x1="720.60" y1="532.60" x2="720.60" y2="538.60" stroke="#000" stroke-width="2.1"/>
<text transform="translate(720.40 563.6) scale(0.95 1)" text-anchor="middle" class="tk">0.0</text>
<line x1="781.81" y1="532.60" x2="781.81" y2="538.60" stroke="#000" stroke-width="2.1"/>
<text transform="translate(781.61 563.6) scale(0.95 1)" text-anchor="middle" class="tk">0.1</text>
<line x1="843.03" y1="532.60" x2="843.03" y2="538.60" stroke="#000" stroke-width="2.1"/>
<text transform="translate(842.83 563.6) scale(0.95 1)" text-anchor="middle" class="tk">0.2</text>
<line x1="904.24" y1="532.60" x2="904.24" y2="538.60" stroke="#000" stroke-width="2.1"/>
<text transform="translate(904.04 563.6) scale(0.95 1)" text-anchor="middle" class="tk">0.3</text>
<line x1="965.45" y1="532.60" x2="965.45" y2="538.60" stroke="#000" stroke-width="2.1"/>
<text transform="translate(965.25 563.6) scale(0.95 1)" text-anchor="middle" class="tk">0.4</text>
<line x1="1026.66" y1="532.60" x2="1026.66" y2="538.60" stroke="#000" stroke-width="2.1"/>
<text transform="translate(1026.46 563.6) scale(0.95 1)" text-anchor="middle" class="tk">0.5</text>
<line x1="1087.87" y1="532.60" x2="1087.87" y2="538.60" stroke="#000" stroke-width="2.1"/>
<text transform="translate(1087.67 563.6) scale(0.95 1)" text-anchor="middle" class="tk">0.6</text>
<line x1="1149.09" y1="532.60" x2="1149.09" y2="538.60" stroke="#000" stroke-width="2.1"/>
<text transform="translate(1148.89 563.6) scale(0.95 1)" text-anchor="middle" class="tk">0.7</text>
<line x1="1210.30" y1="532.60" x2="1210.30" y2="538.60" stroke="#000" stroke-width="2.1"/>
<text transform="translate(1210.10 563.6) scale(0.95 1)" text-anchor="middle" class="tk">0.8</text>
<circle cx="855.27" cy="466.52" r="4.4" fill="#000"/>
<text x="855.27" y="449.42" text-anchor="middle" class="rn">I</text>
<circle cx="1057.27" cy="244.25" r="4.4" fill="#000"/>
<text x="1057.27" y="227.15" text-anchor="middle" class="rn">II</text>
<circle cx="1149.09" cy="155.34" r="4.4" fill="#000"/>
<text x="1149.09" y="138.24" text-anchor="middle" class="rn">III</text>
<path d="M1332.50 43.60V532.60H1852.80" fill="none" stroke="#000" stroke-width="2.1"/>
<line x1="1325.50" y1="510.37" x2="1332.50" y2="510.37" stroke="#000" stroke-width="2.1"/>
<text transform="translate(1320.40 520.87) scale(0.94 1)" text-anchor="end" class="tk">0.0</text>
<line x1="1325.50" y1="421.46" x2="1332.50" y2="421.46" stroke="#000" stroke-width="2.1"/>
<text transform="translate(1320.40 431.96) scale(0.94 1)" text-anchor="end" class="tk">0.1</text>
<line x1="1325.50" y1="332.55" x2="1332.50" y2="332.55" stroke="#000" stroke-width="2.1"/>
<text transform="translate(1320.40 343.05) scale(0.94 1)" text-anchor="end" class="tk">0.2</text>
<line x1="1325.50" y1="243.65" x2="1332.50" y2="243.65" stroke="#000" stroke-width="2.1"/>
<text transform="translate(1320.40 254.15) scale(0.94 1)" text-anchor="end" class="tk">0.3</text>
<line x1="1325.50" y1="154.74" x2="1332.50" y2="154.74" stroke="#000" stroke-width="2.1"/>
<text transform="translate(1320.40 165.24) scale(0.94 1)" text-anchor="end" class="tk">0.4</text>
<line x1="1325.50" y1="65.83" x2="1332.50" y2="65.83" stroke="#000" stroke-width="2.1"/>
<text transform="translate(1320.40 76.33) scale(0.94 1)" text-anchor="end" class="tk">0.5</text>
<line x1="1347.80" y1="532.60" x2="1347.80" y2="538.60" stroke="#000" stroke-width="2.1"/>
<text transform="translate(1347.60 563.6) scale(0.95 1)" text-anchor="middle" class="tk">0.0</text>
<line x1="1409.01" y1="532.60" x2="1409.01" y2="538.60" stroke="#000" stroke-width="2.1"/>
<text transform="translate(1408.81 563.6) scale(0.95 1)" text-anchor="middle" class="tk">0.1</text>
<line x1="1470.23" y1="532.60" x2="1470.23" y2="538.60" stroke="#000" stroke-width="2.1"/>
<text transform="translate(1470.03 563.6) scale(0.95 1)" text-anchor="middle" class="tk">0.2</text>
<line x1="1531.44" y1="532.60" x2="1531.44" y2="538.60" stroke="#000" stroke-width="2.1"/>
<text transform="translate(1531.24 563.6) scale(0.95 1)" text-anchor="middle" class="tk">0.3</text>
<line x1="1592.65" y1="532.60" x2="1592.65" y2="538.60" stroke="#000" stroke-width="2.1"/>
<text transform="translate(1592.45 563.6) scale(0.95 1)" text-anchor="middle" class="tk">0.4</text>
<line x1="1653.86" y1="532.60" x2="1653.86" y2="538.60" stroke="#000" stroke-width="2.1"/>
<text transform="translate(1653.66 563.6) scale(0.95 1)" text-anchor="middle" class="tk">0.5</text>
<line x1="1715.07" y1="532.60" x2="1715.07" y2="538.60" stroke="#000" stroke-width="2.1"/>
<text transform="translate(1714.87 563.6) scale(0.95 1)" text-anchor="middle" class="tk">0.6</text>
<line x1="1776.29" y1="532.60" x2="1776.29" y2="538.60" stroke="#000" stroke-width="2.1"/>
<text transform="translate(1776.09 563.6) scale(0.95 1)" text-anchor="middle" class="tk">0.7</text>
<line x1="1837.50" y1="532.60" x2="1837.50" y2="538.60" stroke="#000" stroke-width="2.1"/>
<text transform="translate(1837.30 563.6) scale(0.95 1)" text-anchor="middle" class="tk">0.8</text>
<circle cx="1482.47" cy="466.52" r="4.4" fill="#000"/>
<text x="1482.47" y="449.42" text-anchor="middle" class="rn">I</text>
<circle cx="1684.47" cy="244.25" r="4.4" fill="#000"/>
<text x="1684.47" y="227.15" text-anchor="middle" class="rn">II</text>
<circle cx="1776.29" cy="155.34" r="4.4" fill="#000"/>
<text x="1776.29" y="138.24" text-anchor="middle" class="rn">III</text>
<text transform="translate(32.80 18.9) scale(1.06 1)" class="pl">(A)</text>
<text x="338.45" y="24.8" text-anchor="middle" class="ti">No inbreeding effect</text>
<text transform="translate(659.80 18.9) scale(1.06 1)" class="pl">(B)</text>
<text x="965.45" y="24.8" text-anchor="middle" class="ti">Inbreeding depression</text>
<text transform="translate(1287.00 18.9) scale(1.06 1)" class="pl">(C)</text>
<text x="1592.65" y="24.8" text-anchor="middle" class="ti">Net effects of inbreeding</text>
<text transform="translate(20.8 288.5) rotate(-90)" text-anchor="middle" class="at">Adult mortality</text>
<text x="965.45" y="598.8" text-anchor="middle" class="at">Juvenile mortality</text>
<text transform="translate(1864.6 66) scale(1.018 1)" class="lt">Restoration</text>
<text transform="translate(1864.6 93.9) scale(1.018 1)" class="lt">probability</text>
<rect x="1865.4" y="109.00" width="27.9" height="28.1" fill="#8b7b8b"/>
<text x="1906.4" y="130.60" class="ll">0.00</text>
<rect x="1865.4" y="137.03" width="27.9" height="28.1" fill="#938f7a"/>
<rect x="1865.4" y="137" width="27.9" height="1" fill="#fff" fill-opacity="0.3" shape-rendering="crispEdges"/>
<text x="1906.4" y="158.63" class="ll">0.25</text>
<rect x="1865.4" y="165.06" width="27.9" height="28.1" fill="#98a467"/>
<rect x="1865.4" y="165" width="27.9" height="1" fill="#fff" fill-opacity="0.3" shape-rendering="crispEdges"/>
<text x="1906.4" y="186.66" class="ll">0.50</text>
<rect x="1865.4" y="193.09" width="27.9" height="28.1" fill="#9ab851"/>
<rect x="1865.4" y="193" width="27.9" height="1" fill="#fff" fill-opacity="0.3" shape-rendering="crispEdges"/>
<text x="1906.4" y="214.69" class="ll">0.75</text>
<rect x="1865.4" y="221.12" width="27.9" height="28.1" fill="#9acd32"/>
<rect x="1865.4" y="221" width="27.9" height="1" fill="#fff" fill-opacity="0.3" shape-rendering="crispEdges"/>
<text x="1906.4" y="242.72" class="ll">1.00</text>
<text transform="translate(1864.6 406) scale(1.018 1)" class="lt">Net effects</text>
<rect x="1865.4" y="421.50" width="27.9" height="27.9" fill="#fff8dc"/>
<text x="1906.4" y="443.10" class="ll">0.0</text>
<rect x="1865.4" y="449.30" width="27.9" height="27.9" fill="#ffd3a2"/>
<rect x="1865.4" y="449" width="27.9" height="1" fill="#fff" fill-opacity="0.3" shape-rendering="crispEdges"/>
<text x="1906.4" y="470.90" class="ll">0.2</text>
<rect x="1865.4" y="477.10" width="27.9" height="27.9" fill="#feae6a"/>
<rect x="1865.4" y="477" width="27.9" height="1" fill="#fff" fill-opacity="0.3" shape-rendering="crispEdges"/>
<text x="1906.4" y="498.70" class="ll">0.4</text>
<rect x="1865.4" y="504.90" width="27.9" height="27.9" fill="#f58930"/>
<rect x="1865.4" y="504" width="27.9" height="1" fill="#fff" fill-opacity="0.3" shape-rendering="crispEdges"/>
<text x="1906.4" y="526.50" class="ll">0.6</text>
</svg>
</body></html>
